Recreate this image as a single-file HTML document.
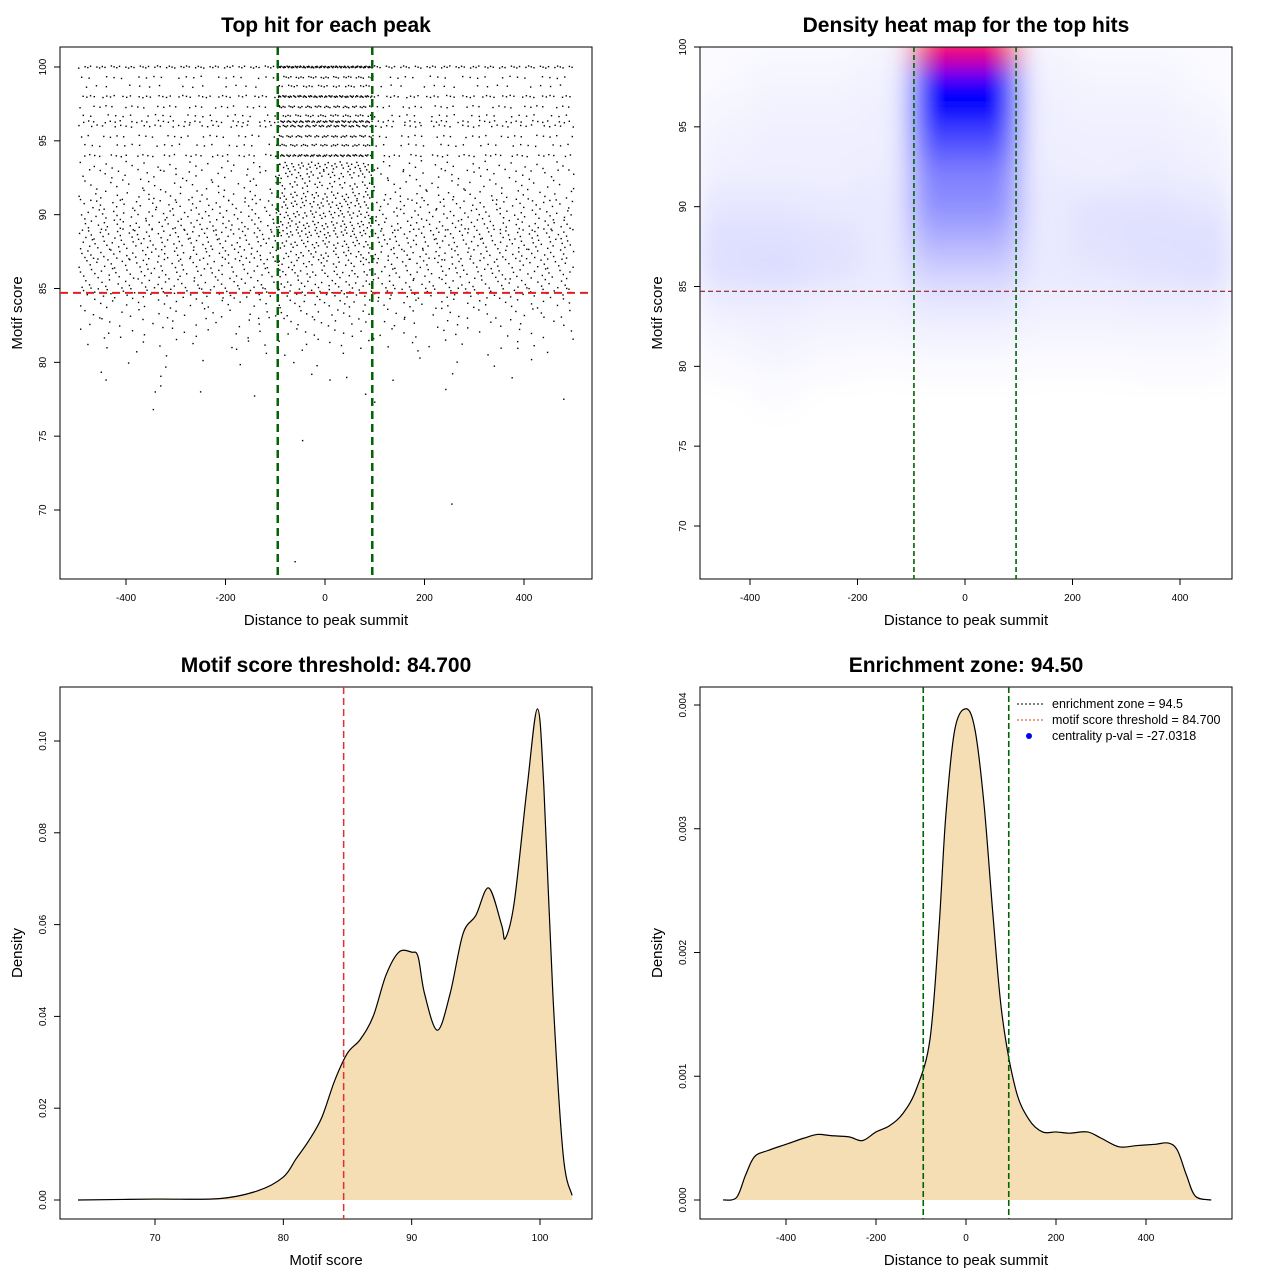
<!DOCTYPE html>
<html><head><meta charset="utf-8">
<style>
html,body{margin:0;padding:0;background:#fff;}
svg{display:block;font-family:"Liberation Sans",sans-serif;}
</style></head>
<body>
<svg id="s" width="1280" height="1280" viewBox="0 0 1280 1280">
<defs>
<filter id="blur" x="-20%" y="-20%" width="140%" height="140%"><feGaussianBlur stdDeviation="14"/></filter>
<clipPath id="clipHeat"><rect x="700" y="47" width="532" height="532"/></clipPath>
</defs>
</svg>
<script>
// ---------- DATA ----------
const rowScores = [100,99.3,98.7,98,97.3,96.7,96.3,96,95.3,94.7,94,93.3,92.7,92,91.3,90.7,90,89.3,88.7,88,87.3,86.7,86,85.3,84.7,84,83.3,82.7,82,81.3,80.7,80,79,78];
const centerCounts = [90,30,25,70,40,30,60,50,40,35,60,45,35,30,35,40,40,40,40,35,30,25,25,22,25,15,12,10,8,6,4,3,2,1];
const outerCounts = [110,40,30,80,50,40,60,55,45,40,60,50,45,50,60,80,90,100,110,110,100,90,90,80,80,50,35,30,25,18,10,8,5,3];
const outlierX = [-345,-250,-45,-60,255,10,100,480,-440,-330];
const outlierY = [76.8,78,74.7,66.5,70.4,78.8,77.3,77.5,78.8,78.4];
const heatX = [-500,-400,-300,-200,-100,0,100,200,300,400];
const heatRows = [100,98,96,94,92,90,88,86,84,82,80,78];
const heatVals = [
[0.02,0.02,0.02,0.03,1.0,1.0,0.03,0.02,0.02,0.02],
[0.02,0.03,0.03,0.04,0.78,0.78,0.04,0.03,0.03,0.02],
[0.03,0.04,0.04,0.05,0.8,0.8,0.05,0.04,0.04,0.03],
[0.04,0.05,0.05,0.05,0.55,0.55,0.05,0.05,0.05,0.04],
[0.05,0.05,0.05,0.06,0.4,0.4,0.06,0.05,0.06,0.05],
[0.08,0.08,0.07,0.07,0.35,0.35,0.07,0.09,0.09,0.08],
[0.1,0.1,0.09,0.07,0.25,0.25,0.07,0.09,0.1,0.1],
[0.1,0.11,0.09,0.07,0.15,0.15,0.07,0.08,0.09,0.1],
[0.06,0.06,0.05,0.05,0.08,0.08,0.05,0.05,0.06,0.06],
[0.03,0.04,0.03,0.03,0.04,0.04,0.03,0.03,0.03,0.03],
[0.015,0.025,0.015,0.01,0.015,0.015,0.01,0.01,0.015,0.015],
[0,0.01,0,0,0,0,0,0,0,0]];
const scoreX = [64,70,75,78,80,81,82,83,84,85,86,87,88,89,90,90.5,91,92,93,94,95,96,97,97.3,98,99,99.8,100.3,101,101.8,102.5];
const scoreD = [0,0.0002,0.0003,0.002,0.005,0.009,0.013,0.018,0.026,0.032,0.035,0.04,0.049,0.054,0.054,0.053,0.045,0.037,0.045,0.058,0.062,0.068,0.06,0.057,0.065,0.09,0.107,0.09,0.045,0.01,0.001];
const distX = [-540,-510,-490,-470,-440,-400,-360,-330,-300,-260,-230,-200,-170,-140,-110,-80,-60,-45,-25,0,20,40,60,80,110,140,170,200,230,270,300,340,380,420,450,470,490,510,545];
const distD = [0,0.00002,0.0002,0.00035,0.0004,0.00045,0.0005,0.00053,0.00052,0.00051,0.00048,0.00055,0.0006,0.0007,0.0009,0.0013,0.0022,0.0031,0.0038,0.00397,0.0038,0.0032,0.0023,0.0015,0.0009,0.00065,0.00055,0.00055,0.00054,0.00055,0.0005,0.00043,0.00044,0.00045,0.00046,0.0004,0.0002,0.00003,0];
const xTicksDist = [-400,-200,0,200,400];
const yTicksScore = [70,75,80,85,90,95,100];
const xTicksScore = [70,80,90,100];
const yTicksDens3 = [0,0.02,0.04,0.06,0.08,0.10];
const yTicksDens4 = [0,0.001,0.002,0.003,0.004];
const threshold = 84.7, zone = 95;

// ---------- HELPERS ----------
const NS="http://www.w3.org/2000/svg", S=document.getElementById('s');
function mk(tag, a, p){const e=document.createElementNS(NS,tag);for(const k in a)e.setAttribute(k,a[k]);(p||S).appendChild(e);return e;}
function lin(d0,d1,r0,r1){return v=>r0+(v-d0)*(r1-r0)/(d1-d0);}
function smoothPath(pts){let d=`M${pts[0][0]},${pts[0][1]}`;for(let i=0;i<pts.length-1;i++){const p0=pts[Math.max(0,i-1)],p1=pts[i],p2=pts[i+1],p3=pts[Math.min(pts.length-1,i+2)];const c1=[p1[0]+(p2[0]-p0[0])/6,p1[1]+(p2[1]-p0[1])/6],c2=[p2[0]-(p3[0]-p1[0])/6,p2[1]-(p3[1]-p1[1])/6];d+=`C${c1[0]},${c1[1]} ${c2[0]},${c2[1]} ${p2[0]},${p2[1]}`;}return d;}
function frame(x0,y0,title,xlab,ylab,key){
  let e=mk('rect',{x:x0,y:y0,width:532,height:532,fill:'none',stroke:'#000','stroke-width':1});
  
  
  e=mk('text',{x:x0+266,y:y0-15,'text-anchor':'middle','font-size':21,'font-weight':'bold'});e.textContent=title;
  
  
  e=mk('text',{x:x0+266,y:y0+578,'text-anchor':'middle','font-size':15});e.textContent=xlab;
  
  
  e=mk('text',{x:0,y:0,'text-anchor':'middle','font-size':15,transform:`translate(${x0-38},${y0+266}) rotate(-90)`});e.textContent=ylab;
  
  
}
function xTicks(ticks,f,yb,key,fmt){ticks.forEach(t=>{const x=f(t);let e=mk('line',{x1:x,x2:x,y1:yb,y2:yb+6,stroke:'#000'});
  
  
  e=mk('text',{x:x,y:yb+22,'text-anchor':'middle','font-size':10});e.textContent=fmt?fmt(t):t;
  
  });}
function yTicks(ticks,f,xl,key,fmt){ticks.forEach(t=>{const y=f(t);let e=mk('line',{x1:xl-6,x2:xl,y1:y,y2:y,stroke:'#000'});
  
  
  e=mk('text',{x:0,y:0,'text-anchor':'middle','font-size':10,transform:`translate(${xl-14},${y}) rotate(-90)`});e.textContent=fmt?fmt(t):t;
  
  });}

// ---------- PANEL 1 ----------
{
  const fx=lin(0,400,325,524), fy=lin(100,70,67,510);
  frame(60,47,'Top hit for each peak','Distance to peak summit','Motif score','scatter');
  const g=mk('g',{fill:'#000'});
  
  
  rowScores.forEach((sc,r)=>{
    const jit = sc<93.5?0.55:0.12;
    const nc=centerCounts[r];
    for(let i=0;i<nc;i++){const x=-95+190*(i+0.5)/nc+(((i*0.739+r*0.21)%1)-0.5)*190/nc;const j=(((i*0.618+r*0.37)%1)-0.5)*jit;
      const c=mk('rect',{x:fx(x)-0.7,y:fy(sc+j)-0.7,width:1.4,height:1.4},g);
      
      }
    const no=outerCounts[r];
    for(let i=0;i<no;i++){const f=(i+0.5+(((i*0.739+r*0.29)%1)-0.5))/no*810;const x=f<405?-495+f:95+(f-405);const j=(((i*0.618+r*0.53)%1)-0.5)*jit*1.3;
      const c=mk('rect',{x:fx(x)-0.7,y:fy(sc+j)-0.7,width:1.4,height:1.4},g);
      
      }
  });
  outlierX.forEach((x,i)=>{const c=mk('rect',{x:fx(x)-0.7,y:fy(outlierY[i])-0.7,width:1.4,height:1.4},g);
    
    });
  let e=mk('line',{x1:60,x2:592,y1:fy(threshold),y2:fy(threshold),stroke:'#e02020','stroke-width':2,'stroke-dasharray':'8,5'});
  
  
  [-zone,zone].forEach(z=>{e=mk('line',{x1:fx(z),x2:fx(z),y1:47,y2:579,stroke:'#006400','stroke-width':2.5,'stroke-dasharray':'8,5'});
    
    });
  xTicks(xTicksDist,fx,579,'scatter');
  yTicks(yTicksScore,fy,60,'scatter');
}

// ---------- PANEL 2 ----------
{
  const fx=lin(0,400,965,1180), fy=lin(100,70,47,526);
  function col(v){v=Math.min(1,v);if(v<0.8){const t=v/0.8;return `rgb(${Math.round(255*(1-t))},${Math.round(255*(1-t))},255)`;}const t=(v-0.8)/0.2;return `rgb(${Math.round(255*t)},0,${Math.round(255*(1-t))})`;}
  const gc=mk('g',{'clip-path':'url(#clipHeat)'});
  const g=mk('g',{filter:'url(#blur)'},gc);
  
  
  heatRows.forEach((sc,r)=>{heatX.forEach((x,c)=>{
    const cell=mk('rect',{x:fx(x),y:fy(sc+1),width:fx(x+100)-fx(x)+0.5,height:fy(sc-1)-fy(sc+1)+0.5,fill:col(heatVals[r][c])},g);
    
    });});
  frame(700,47,'Density heat map for the top hits','Distance to peak summit','Motif score','heatmap');
  let e=mk('line',{x1:700,x2:1232,y1:fy(threshold),y2:fy(threshold),stroke:'#8b2020','stroke-width':1.2,'stroke-dasharray':'5,3'});
  
  
  [-zone,zone].forEach(z=>{e=mk('line',{x1:fx(z),x2:fx(z),y1:47,y2:579,stroke:'#006400','stroke-width':1.6,'stroke-dasharray':'5,3'});
    
    });
  xTicks(xTicksDist,fx,579,'heatmap');
  yTicks(yTicksScore,fy,700,'heatmap');
}

// ---------- PANEL 3 ----------
{
  const fx=lin(70,100,155,540), fy=lin(0,0.10,1200,741);
  frame(60,687,'Motif score threshold: 84.700','Motif score','Density','score-density');
  const pts=scoreX.map((x,i)=>[fx(x),fy(scoreD[i])]);
  let e=mk('path',{d:smoothPath(pts)+`L${pts[pts.length-1][0]},${fy(0)}L${pts[0][0]},${fy(0)}Z`,fill:'#f5deb3',stroke:'none'});
  
  
  e=mk('path',{d:smoothPath(pts),fill:'none',stroke:'#000','stroke-width':1.2});
  
  
  e=mk('line',{x1:fx(threshold),x2:fx(threshold),y1:687,y2:1219,stroke:'#e03030','stroke-width':1.5,'stroke-dasharray':'7,4'});
  
  
  xTicks(xTicksScore,fx,1219,'score-density');
  yTicks(yTicksDens3,fy,60,'score-density',t=>t.toFixed(2));
}

// ---------- PANEL 4 ----------
{
  const fx=lin(0,400,966,1146), fy=lin(0,0.004,1200,705);
  frame(700,687,'Enrichment zone: 94.50','Distance to peak summit','Density','dist-density');
  const pts=distX.map((x,i)=>[fx(x),fy(distD[i])]);
  let e=mk('path',{d:smoothPath(pts)+`L${pts[pts.length-1][0]},${fy(0)}L${pts[0][0]},${fy(0)}Z`,fill:'#f5deb3',stroke:'none'});
  
  
  e=mk('path',{d:smoothPath(pts),fill:'none',stroke:'#000','stroke-width':1.2});
  
  
  [-zone,zone].forEach(z=>{e=mk('line',{x1:fx(z),x2:fx(z),y1:687,y2:1219,stroke:'#006400','stroke-width':1.6,'stroke-dasharray':'6,3'});
    
    });
  xTicks(xTicksDist,fx,1219,'dist-density');
  yTicks(yTicksDens4,fy,700,'dist-density',t=>t.toFixed(3));
  const lg=mk('g',{});
  
  
  const items=[['enrichment zone = 94.5','#000','line'],['motif score threshold = 84.700','#e03030','line'],['centrality p-val = -27.0318','#0000ff','dot']];
  items.forEach((it,i)=>{const y=704+i*16;
    let m;
    if(it[2]==='line'){m=mk('line',{x1:1017,x2:1043,y1:y,y2:y,stroke:it[1],'stroke-dasharray':'2,2'},lg);}
    else{m=mk('circle',{cx:1029,cy:y,r:3,fill:it[1]},lg);}
    
    
    const t=mk('text',{x:1052,y:y+4,'font-size':12.5},lg);t.textContent=it[0];
    
    });
}
</script>
</body></html>
